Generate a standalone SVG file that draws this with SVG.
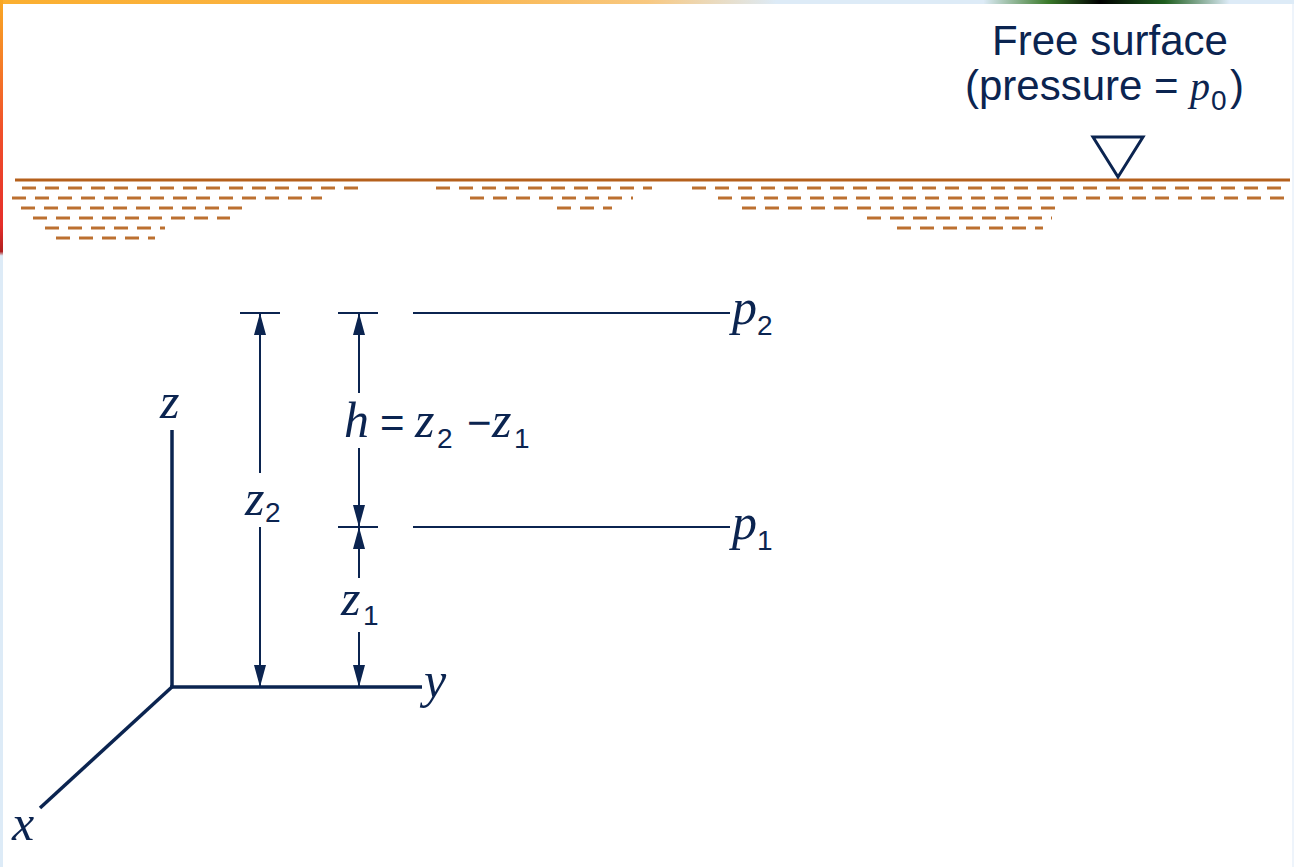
<svg xmlns="http://www.w3.org/2000/svg" width="1294" height="867" viewBox="0 0 1294 867">
<defs>
<linearGradient id="topg" x1="0" y1="0" x2="1" y2="0">
<stop offset="0" stop-color="#FBAF30"/>
<stop offset="0.35" stop-color="#FAB54A"/>
<stop offset="0.5" stop-color="#F8C880"/>
<stop offset="0.6" stop-color="#DDEBF7"/>
<stop offset="0.76" stop-color="#DDEBF7"/>
<stop offset="0.81" stop-color="#3A7A2A"/>
<stop offset="0.85" stop-color="#000000"/>
<stop offset="0.9" stop-color="#1E5E1E"/>
<stop offset="0.95" stop-color="#DDEBF7"/>
<stop offset="1" stop-color="#DDEBF7"/>
</linearGradient>
<linearGradient id="leftg" x1="0" y1="0" x2="0" y2="1">
<stop offset="0" stop-color="#F9A825"/>
<stop offset="0.15" stop-color="#F0502A"/>
<stop offset="0.26" stop-color="#E52E2A"/>
<stop offset="0.29" stop-color="#B02020"/>
<stop offset="0.295" stop-color="#DDEBF7"/>
<stop offset="1" stop-color="#DDEBF7"/>
</linearGradient>
<marker id="arr" viewBox="0 0 22 12" refX="22" refY="6" markerWidth="22" markerHeight="12" markerUnits="userSpaceOnUse" orient="auto">
<path d="M0,0 L22,6 L0,12 Z" fill="#0B2450"/>
</marker>
<style>
.sans{font-family:"Liberation Sans",Arial,sans-serif;fill:#0B2450}
.var{font-family:"Liberation Serif","Times New Roman",serif;font-style:italic;fill:#0B2450;font-size:50px}
.sub{font-family:"Liberation Sans",Arial,sans-serif;fill:#0B2450;font-size:28px}
.dim{stroke:#0B2450;stroke-width:2;fill:none}
.axis{stroke:#0B2450;stroke-width:3.5;fill:none}
.dash{stroke:#BC7030;stroke-width:2.8;stroke-dasharray:14 9;fill:none}
</style>
</defs>
<rect x="0" y="0" width="1294" height="867" fill="#FFFFFF"/>
<rect x="0" y="0" width="1294" height="4" fill="url(#topg)"/>
<rect x="0" y="0" width="3" height="867" fill="url(#leftg)"/>
<rect x="1292" y="4" width="2" height="863" fill="#EEF4FB"/>

<g id="free-surface">
<line x1="15" y1="180" x2="1290" y2="180" stroke="#B5601C" stroke-width="3"/>
<g id="liquid-dashes">
<line class="dash" x1="22" y1="188" x2="358" y2="188"/>
<line class="dash" x1="12" y1="198" x2="322" y2="198"/>
<line class="dash" x1="21" y1="208" x2="242" y2="208"/>
<line class="dash" x1="33" y1="218" x2="230" y2="218"/>
<line class="dash" x1="45" y1="228" x2="165" y2="228"/>
<line class="dash" x1="56" y1="238" x2="155" y2="238"/>
<line class="dash" x1="436" y1="188" x2="652" y2="188"/>
<line class="dash" x1="470" y1="198" x2="633" y2="198"/>
<line class="dash" x1="557" y1="208" x2="612" y2="208"/>
<line class="dash" x1="692" y1="188" x2="1290" y2="188"/>
<line class="dash" x1="718" y1="198" x2="1290" y2="198"/>
<line class="dash" x1="742" y1="208" x2="1060" y2="208"/>
<line class="dash" x1="867" y1="218" x2="1052" y2="218"/>
<line class="dash" x1="897" y1="228" x2="1043" y2="228"/>
</g>
<path d="M1093,137 L1143,137 L1118,177 Z" fill="none" stroke="#0B2450" stroke-width="3" stroke-linejoin="miter"/>
<text class="sans" x="1110" y="55" font-size="42" text-anchor="middle">Free surface</text>
<text class="sans" x="965" y="100" font-size="42">(pressure = </text>
<text class="var" x="1190" y="100" font-size="40" style="font-size:40px">p</text>
<text class="sub" x="1211" y="110">0</text>
<text class="sans" x="1230" y="100" font-size="42">)</text>
</g>

<g id="axes">
<line class="axis" x1="172" y1="430" x2="172" y2="687"/>
<line class="axis" x1="170" y1="687" x2="422" y2="687"/>
<line class="axis" x1="173" y1="686" x2="40" y2="808"/>
<text class="var" x="160" y="418">z</text>
<text class="var" x="424" y="697">y</text>
<text class="var" x="12" y="840">x</text>
</g>

<g id="level-p2">
<line class="dim" x1="413" y1="313" x2="730" y2="313"/>
<text class="var" x="732" y="324">p</text>
<text class="sub" x="757" y="335">2</text>
</g>
<g id="level-p1">
<line class="dim" x1="413" y1="527" x2="730" y2="527"/>
<text class="var" x="732" y="539">p</text>
<text class="sub" x="757" y="550">1</text>
</g>

<g id="label-z2">
<text class="var" x="245" y="515">z</text>
<text class="sub" x="265" y="522">2</text>
</g>
<g id="label-h">
<text class="var" x="344" y="437">h</text>
<text class="sans" x="380" y="437" font-size="42">=</text>
<text class="var" x="415" y="437">z</text>
<text class="sub" x="437" y="448">2</text>
<text class="sans" x="467" y="437" font-size="42">−</text>
<text class="var" x="492" y="437">z</text>
<text class="sub" x="514" y="448">1</text>
</g>
<g id="label-z1">
<text class="var" x="341" y="615">z</text>
<text class="sub" x="363" y="625">1</text>
</g>

<g id="connectors">
<line class="dim" x1="240" y1="313" x2="280" y2="313"/>
<line class="dim" x1="338" y1="313" x2="378" y2="313"/>
<line class="dim" x1="338" y1="527" x2="378" y2="527"/>
<line class="dim" x1="260" y1="473" x2="260" y2="313" marker-end="url(#arr)"/>
<line class="dim" x1="260" y1="527" x2="260" y2="687" marker-end="url(#arr)"/>
<line class="dim" x1="359" y1="393" x2="359" y2="313" marker-end="url(#arr)"/>
<line class="dim" x1="359" y1="448" x2="359" y2="527" marker-end="url(#arr)"/>
<line class="dim" x1="359" y1="578" x2="359" y2="527" marker-end="url(#arr)"/>
<line class="dim" x1="359" y1="632" x2="359" y2="687" marker-end="url(#arr)"/>
</g>
</svg>
